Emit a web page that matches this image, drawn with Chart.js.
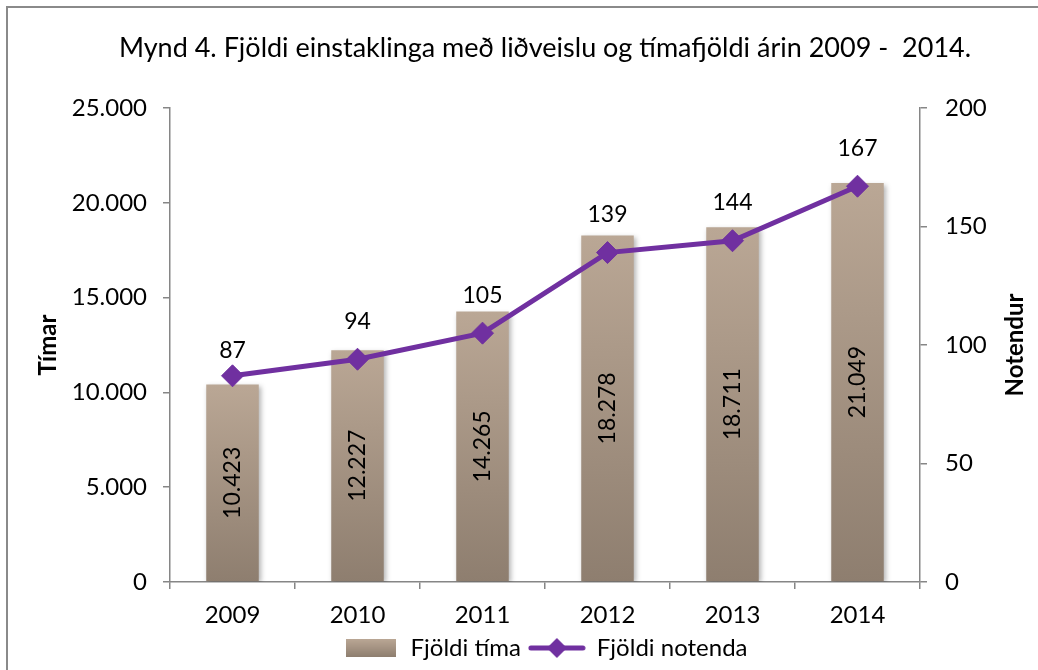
<!DOCTYPE html>
<html>
<head>
<meta charset="utf-8">
<script src="https://cdn.jsdelivr.net/npm/chart.js@4/dist/chart.umd.min.js"></script>
<style>
  html, body { margin: 0; padding: 0; background: #fff; }
  #wrap { width: 1038px; height: 670px; position: relative; }
</style>
</head>
<body>
<div id="wrap"><canvas id="chart" width="1038" height="670"></canvas></div>
<script>
// chart data
const years = ["2009", "2010", "2011", "2012", "2013", "2014"];
const hours = [10423, 12227, 14265, 18278, 18711, 21049];
const users = [87, 94, 105, 139, 144, 167];
const titleText = "Mynd 4. Fjöldi einstaklinga með liðveislu og tímafjöldi árin 2009 -  2014.";

const FONT = "Lato, 'Open Sans', sans-serif";
const axisGray = "#868686";
const purple = "#7030a0";

// icelandic thousand separator
function fmt(v) {
  return String(v).replace(/\B(?=(\d{3})+(?!\d))/g, ".");
}

function barGradient(ctx, top, bottom) {
  const g = ctx.createLinearGradient(0, top, 0, bottom);
  g.addColorStop(0, "#baa795");
  g.addColorStop(1, "#8e7e6f");
  return g;
}

// legend swatches
function barSwatch() {
  const c = document.createElement("canvas");
  c.width = 50; c.height = 18;
  const x = c.getContext("2d");
  x.fillStyle = barGradient(x, 0, 18);
  x.fillRect(0, 0, 50, 18);
  return c;
}
function lineSwatch() {
  const c = document.createElement("canvas");
  c.width = 58; c.height = 22;
  const x = c.getContext("2d");
  x.strokeStyle = purple;
  x.lineWidth = 5;
  x.lineCap = "round";
  x.beginPath(); x.moveTo(3, 11); x.lineTo(55, 11); x.stroke();
  x.fillStyle = purple;
  x.beginPath();
  x.moveTo(29, 1); x.lineTo(39, 11); x.lineTo(29, 21); x.lineTo(19, 11);
  x.closePath(); x.fill();
  return c;
}

// frame, title, right axis title and value labels
const extras = {
  id: "extras",
  beforeDatasetDraw(chart, args) {
    if (args.index === 0) {
      const ctx = chart.ctx;
      ctx.save();
      ctx.shadowColor = "rgba(0,0,0,0.3)";
      ctx.shadowBlur = 5;
      ctx.shadowOffsetX = 2;
      ctx.shadowOffsetY = 2;
    }
  },
  afterDatasetDraw(chart, args) {
    if (args.index === 0) chart.ctx.restore();
  },
  afterDraw(chart) {
    const ctx = chart.ctx;
    const area = chart.chartArea;
    ctx.save();
    // outer frame (top + left visible)
    ctx.strokeStyle = "#8a8a8a";
    ctx.lineWidth = 2;
    ctx.beginPath();
    ctx.moveTo(7, 670); ctx.lineTo(7, 7); ctx.lineTo(1038, 7);
    ctx.stroke();

    ctx.fillStyle = "#000";
    ctx.textAlign = "center";
    ctx.textBaseline = "middle";
    ctx.font = "27px " + FONT;
    ctx.fillText(titleText, (area.left + area.right) / 2, 48);

    // right axis title, reading bottom to top
    ctx.font = "bold 24px " + FONT;
    ctx.save();
    ctx.translate(1015, (area.top + area.bottom) / 2);
    ctx.rotate(-Math.PI / 2);
    ctx.fillText("Notendur", 0, 0);
    ctx.restore();

    // bar labels
    ctx.font = "23px " + FONT;
    const bars = chart.getDatasetMeta(0).data;
    bars.forEach((b, i) => {
      ctx.save();
      ctx.translate(b.x, (b.y + b.base) / 2);
      ctx.rotate(-Math.PI / 2);
      ctx.fillText(fmt(hours[i]), 0, 0);
      ctx.restore();
    });
    // line labels (the first one sits a bit lower in the original)
    const pts = chart.getDatasetMeta(1).data;
    pts.forEach((p, i) => {
      ctx.fillText(String(users[i]), p.x, p.y - (i === 0 ? 25 : 38));
    });
    ctx.restore();
  }
};

new Chart(document.getElementById("chart"), {
  type: "bar",
  data: {
    labels: years,
    datasets: [
      {
        type: "bar",
        label: "Fjöldi tíma",
        data: hours,
        yAxisID: "y",
        order: 2,
        barPercentage: 0.42,
        categoryPercentage: 1,
        backgroundColor: (c) => {
          const chart = c.chart;
          if (!chart.chartArea || c.raw === undefined) return "#a8927f";
          const top = chart.scales.y.getPixelForValue(c.raw);
          return barGradient(chart.ctx, top, chart.scales.y.getPixelForValue(0));
        }
      },
      {
        type: "line",
        label: "Fjöldi notenda",
        data: users,
        yAxisID: "y1",
        order: 1,
        borderColor: purple,
        backgroundColor: purple,
        borderWidth: 5,
        pointStyle: "rectRot",
        pointRadius: 11,
        pointBorderWidth: 1,
        pointHoverRadius: 11,
        tension: 0
      }
    ]
  },
  options: {
    responsive: false,
    animation: false,
    events: [],
    layout: { padding: { top: 108, left: 8, right: 0, bottom: 0 } },
    plugins: {
      title: { display: false },
      tooltip: { enabled: false },
      legend: {
        position: "bottom",
        fullSize: false,
        labels: {
          usePointStyle: true,
          pointStyleWidth: 56,
          boxWidth: 56,
          padding: 8,
          font: { family: FONT, size: 24 },
          color: "#000",
          generateLabels: () => [
            { text: "Fjöldi tíma", pointStyle: barSwatch(), fontColor: "#000", datasetIndex: 0 },
            { text: "Fjöldi notenda", pointStyle: lineSwatch(), fontColor: "#000", datasetIndex: 1 }
          ]
        }
      }
    },
    scales: {
      x: {
        offset: true,
        grid: {
          display: true,
          offset: true,
          drawOnChartArea: false,
          drawTicks: true,
          tickLength: 7,
          color: axisGray,
          lineWidth: 1.5
        },
        border: { color: axisGray, width: 1.5 },
        ticks: { color: "#000", padding: 12, font: { family: FONT, size: 24 } },
        afterFit: (s) => { s.height = 46; }
      },
      y: {
        position: "left",
        min: 0,
        max: 25000,
        ticks: {
          stepSize: 5000,
          color: "#000",
          padding: 16,
          font: { family: FONT, size: 24 },
          callback: (v) => fmt(v)
        },
        grid: {
          drawOnChartArea: false,
          tickLength: 7,
          color: axisGray,
          lineWidth: 1.5
        },
        border: { color: axisGray, width: 1.5 },
        title: {
          display: true,
          text: "Tímar",
          color: "#000",
          padding: { top: 26, bottom: 0 },
          font: { family: FONT, size: 24, weight: "bold" }
        },
        afterFit: (s) => { s.width = 162; }
      },
      y1: {
        position: "right",
        min: 0,
        max: 200,
        ticks: {
          stepSize: 50,
          color: "#000",
          padding: 18,
          font: { family: FONT, size: 24 }
        },
        grid: {
          drawOnChartArea: false,
          tickLength: 7,
          color: axisGray,
          lineWidth: 1.5
        },
        border: { color: axisGray, width: 1.5 },
        afterFit: (s) => { s.width = 118; }
      }
    }
  },
  plugins: [extras]
});
</script>
</body>
</html>
